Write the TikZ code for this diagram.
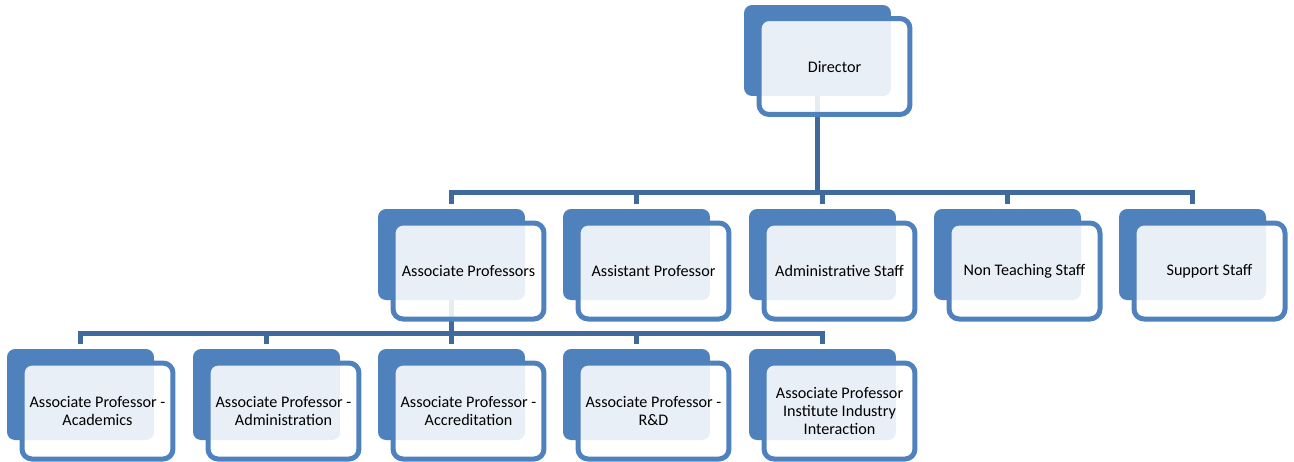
\documentclass[tikz,border=0pt]{standalone}
\usepackage{fontspec}
\setmainfont{Carlito}
\usepackage{tikz}
\usetikzlibrary{calc}
\definecolor{boxblue}{HTML}{4F81BD}
\definecolor{linkblue}{HTML}{3F6A9B}
\tikzset{
  backbox/.style={rectangle, rounded corners=0.16cm, fill=boxblue,
    minimum width=2.94cm, minimum height=1.82cm, inner sep=0pt},
  frontbox/.style={rectangle, rounded corners=0.2cm, draw=boxblue, line width=0.1cm,
    fill=white, fill opacity=0.88, text opacity=1, text=black,
    minimum width=3.02cm, minimum height=1.92cm, inner sep=0pt, align=center,
    font=\fontsize{9.2}{10.4}\selectfont},
  link/.style={draw=linkblue, line width=0.1cm},
}

\begin{document}
\begin{tikzpicture}[x=0.02cm,y=-0.02cm]
  \useasboundingbox (0,0) rectangle (1294,461);
  % bus lines
  \coordinate (busA) at (817.5,192.5);
  \coordinate (busB) at (451.5,333.5);

  % solid back plates
  \node[backbox] (dirB) at (817.5,50.5) {};
  \node[backbox] (assocB) at (451.5,254.5) {};
  \node[backbox] (asstB) at (636.5,254.5) {};
  \node[backbox] (adminB) at (822.5,254.5) {};
  \node[backbox] (nonteachB) at (1007.5,254.5) {};
  \node[backbox] (supportB) at (1192.5,254.5) {};
  \node[backbox] (acadB) at (80.5,394.5) {};
  \node[backbox] (apadminB) at (266.5,394.5) {};
  \node[backbox] (accredB) at (451.5,394.5) {};
  \node[backbox] (rdB) at (636.5,394.5) {};
  \node[backbox] (iiiB) at (822.5,394.5) {};

  % connectors, the front boxes sit on top of them
  \draw[link] (dirB.south) -- (busA);
  \draw[link, shorten >=0.1cm] (busA) -| (assocB.north);
  \draw[link, shorten >=0.1cm] (busA) -| (asstB.north);
  \draw[link, shorten >=0.1cm] (busA) -| (adminB.north);
  \draw[link, shorten >=0.1cm] (busA) -| (nonteachB.north);
  \draw[link, shorten >=0.1cm] (busA) -| (supportB.north);
  \draw[link] (assocB.south) -- (busB);
  \draw[link, shorten >=0.1cm] (busB) -| (acadB.north);
  \draw[link, shorten >=0.1cm] (busB) -| (apadminB.north);
  \draw[link, shorten >=0.1cm] (busB) -| (accredB.north);
  \draw[link, shorten >=0.1cm] (busB) -| (rdB.north);
  \draw[link, shorten >=0.1cm] (busB) -| (iiiB.north);

  % top level
  \node[frontbox] (dir) at (834.5,66.5) {Director};

  % second row
  \node[frontbox] (assoc) at (468.5,271) {Associate Professors};
  \node[frontbox] (asst) at (653.5,271) {Assistant Professor};
  \node[frontbox] (admin) at (839.5,271) {Administrative Staff};
  \node[frontbox] (nonteach) at (1024.5,271) {Non Teaching Staff};
  \node[frontbox] (support) at (1209.5,271) {Support Staff};

  % third row
  \node[frontbox] (acad) at (97.5,411) {Associate Professor -\\Academics};
  \node[frontbox] (apadmin) at (283.5,411) {Associate Professor -\\Administration};
  \node[frontbox] (accred) at (468.5,411) {Associate Professor -\\Accreditation};
  \node[frontbox] (rd) at (653.5,411) {Associate Professor -\\R\&D};
  \node[frontbox] (iii) at (839.5,411) {Associate Professor\\Institute Industry\\Interaction};
\end{tikzpicture}
\end{document}
